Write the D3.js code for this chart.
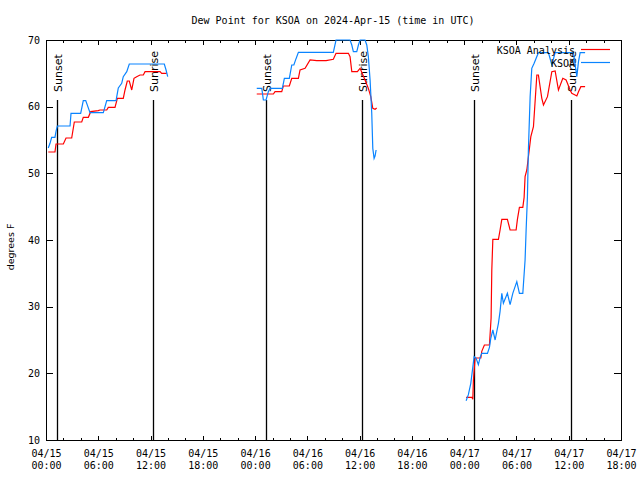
<!DOCTYPE html>
<html>
<head>
<meta charset="utf-8">
<script src="https://cdn.jsdelivr.net/npm/d3@7"></script>
<style>
  html, body { margin: 0; padding: 0; background: #fff; }
  svg { display: block; }
</style>
</head>
<body>
<svg id="chart" width="640" height="480"></svg>
<script>
// ---- DATA (hours since 2024-04-15 00:00 UTC; null = gap) ----
const obsHours = [0.26,0.46,0.65,1.03,1.15,1.3,2.76,2.87,3.98,4.28,4.56,5.05,6.58,6.97,8.04,8.3,8.69,8.87,9.27,9.56,13.58,13.78,13.97,
  null,
  24.19,24.77,24.95,25.26,25.52,25.72,27.13,27.36,27.93,28.21,28.45,28.7,28.97,32.98,33.29,34.9,35.1,35.28,35.67,35.86,36.05,36.62,36.82,37.0,37.2,37.39,37.51,37.66,37.77,37.89,
  null,
  48.22,48.48,48.76,49.14,49.37,49.63,49.83,50.02,50.67,50.9,51.06,51.29,51.55,51.93,52.12,52.32,52.5,52.96,53.27,53.58,54.04,54.34,54.73,54.99,55.11,55.26,55.37,55.57,55.76,56.03,56.52,57.67,58.06,58.44,60.54,60.93,61.12,61.31,61.88];
const obsDew = [53.8,54.5,55.4,55.4,56.3,57.1,57.1,59.0,59.0,60.9,60.9,59.1,59.1,60.9,60.9,62.8,63.5,64.5,65.25,66.4,66.4,65.5,64.5,
  null,
  62.75,62.75,61.0,61.0,62.25,62.75,62.75,64.25,64.25,66.25,66.25,67.2,68.15,68.15,70,70,69.25,68.25,68.25,69.25,70,70,69.25,67.5,64,59.0,53.75,52.25,52.6,53.5,
  null,
  15.9,16.8,18.5,22.5,22.25,21.3,22.4,23.0,23.0,23.9,25.3,26.5,25.0,27.5,29.3,32.0,30.5,32.0,30.3,32.0,33.75,32.0,32.0,37,41.5,46.5,53.5,61.5,65.75,66.5,68.1,68.1,66.25,68.1,68.1,64.5,66.75,68.1,68.1];

const anaHours = [0.26,1.03,1.15,1.99,2.3,2.95,3.25,4.1,4.28,4.86,5.13,6.0,6.2,6.97,7.15,7.92,8.19,8.87,9.07,9.33,9.56,9.84,10.1,10.41,10.79,11.17,11.37,13.09,13.28,13.86,
  null,
  24.19,26.1,26.29,27.06,27.24,27.93,28.21,28.97,29.16,29.74,30.31,31.08,32.15,32.98,33.29,34.71,34.9,35.1,35.74,36.05,36.62,37.0,37.28,37.51,37.77,37.96,
  null,
  48.22,48.88,48.99,49.06,49.25,49.91,50.02,50.32,50.9,51.09,51.17,51.29,51.93,52.12,52.32,52.96,53.27,53.96,54.11,54.34,54.73,54.88,54.99,55.19,55.65,55.95,56.34,56.52,56.91,57.1,57.56,58.06,58.44,58.82,59.32,59.7,60.16,60.35,60.73,60.93,61.12,61.39,61.88];
const anaDew = [53.2,53.2,54.4,54.4,55.3,55.3,57.7,57.7,58.4,58.4,59.25,59.4,59.5,59.5,59.9,59.9,61.25,61.25,62.5,63.85,63.85,62.5,64.25,64.5,64.75,64.75,65.25,65.25,65.0,65.0,
  null,
  61.9,61.9,62.25,62.25,63.1,63.1,64.25,64.25,65.5,65.75,67,66.9,66.9,67.1,68.0,68.0,67.5,65.25,65.25,65.75,64,62.75,61.5,59.75,59.6,59.8,
  null,
  16.4,16.4,16.1,19,22.3,22.3,23.3,24.25,24.25,28.3,35.5,40.1,40.1,41.5,43.1,43.1,41.5,41.5,43.1,44.9,44.9,46.4,49.5,50.5,55.5,57,64.75,64.75,61.25,60.25,61.5,65.25,65.35,62.5,64.25,64.0,62.5,62.0,61.75,61.6,62.25,63,63];

const sunsetHours = [1.23, 25.22, 49.17];
const sunriseHours = [12.32, 36.31, 60.28];
const yTicks = [10, 20, 30, 40, 50, 60, 70];
const seriesNames = ["KSOA Analysis", "KSOA"];
const titleText = "Dew Point for KSOA on 2024-Apr-15 (time in UTC)";
const yLabel = "degrees F";

// ---- SETUP ----
const t0 = Date.UTC(2024, 3, 15, 0, 0);
const hr = h => new Date(t0 + h * 3600e3);
const svg = d3.select("#chart");
const L = 46, R = 621, T = 40, B = 440;
const mono = "'DejaVu Sans Mono', monospace";
const sans = "'DejaVu Sans', sans-serif";

svg.append("rect").attr("width", 640).attr("height", 480).attr("fill", "#fff");

const x = d3.scaleUtc().domain([hr(0), hr(66)]).range([L, R]);
const y = d3.scaleLinear().domain([10, 70]).range([B, T]);

const majorX = d3.range(0, 67, 6).map(hr);
const minorX = d3.range(0, 67, 2).filter(h => h % 6 !== 0).map(hr);

function styleAxis(g) {
  g.select(".domain").remove();
  g.selectAll(".tick line").attr("stroke", "#000").attr("shape-rendering", "crispEdges");
}

// bottom major
const gxb = svg.append("g").attr("transform", `translate(0,${B})`)
  .call(d3.axisBottom(x).tickValues(majorX).tickSize(-4.5).tickFormat(""));
styleAxis(gxb);
const fmtD = d3.utcFormat("%m/%d"), fmtT = d3.utcFormat("%H:%M");
gxb.selectAll(".tick").append("text")
  .attr("fill", "#000").attr("text-anchor", "middle")
  .style("font-family", mono).style("font-size", "10px")
  .each(function(d) {
    const t = d3.select(this);
    t.append("tspan").attr("x", 0).attr("y", 17).text(fmtD(d));
    t.append("tspan").attr("x", 0).attr("y", 29).text(fmtT(d));
  });
// bottom minor
styleAxis(svg.append("g").attr("transform", `translate(0,${B})`)
  .call(d3.axisBottom(x).tickValues(minorX).tickSize(-2.5).tickFormat("")));
// top mirror
styleAxis(svg.append("g").attr("transform", `translate(0,${T})`)
  .call(d3.axisTop(x).tickValues(majorX).tickSize(-4.5).tickFormat("")));
styleAxis(svg.append("g").attr("transform", `translate(0,${T})`)
  .call(d3.axisTop(x).tickValues(minorX).tickSize(-2.5).tickFormat("")));

// y axes
const gyl = svg.append("g").attr("transform", `translate(${L},0)`)
  .call(d3.axisLeft(y).tickValues(yTicks).tickSize(-7).tickPadding(6));
styleAxis(gyl);
gyl.selectAll(".tick text").attr("fill", "#000")
  .style("font-family", mono).style("font-size", "10px");
styleAxis(svg.append("g").attr("transform", `translate(${R},0)`)
  .call(d3.axisRight(y).tickValues(yTicks).tickSize(-7).tickFormat("")));

// border
svg.append("rect").attr("x", L).attr("y", T).attr("width", R - L).attr("height", B - T)
  .attr("fill", "none").attr("stroke", "#000").attr("shape-rendering", "crispEdges");

// sunset / sunrise markers
const markers = sunsetHours.map(h => ({h, label: "Sunset"}))
  .concat(sunriseHours.map(h => ({h, label: "Sunrise"})));
const mg = svg.append("g");
mg.selectAll("line").data(markers).join("line")
  .attr("x1", d => Math.round(x(hr(d.h))) + 0.5).attr("x2", d => Math.round(x(hr(d.h))) + 0.5)
  .attr("y1", y(61)).attr("y2", y(10))
  .attr("stroke", "#000").attr("stroke-width", 1.3);
mg.selectAll("text").data(markers).join("text")
  .attr("transform", d => `translate(${x(hr(d.h)) + 5},${y(62.2)}) rotate(-90)`)
  .attr("text-anchor", "start")
  .style("font-family", sans).style("font-size", "11px").attr("fill", "#000")
  .text(d => d.label);

// lines
function series(hours, vals) {
  return hours.map((h, i) => ({h, v: vals[i]}));
}
const line = d3.line()
  .defined(d => d.h !== null && d.v !== null)
  .x(d => x(hr(d.h))).y(d => y(d.v));

const colors = ["#ff0000", "#0a84ff"];
const clip = svg.append("clipPath").attr("id", "clip")
  .append("rect").attr("x", L).attr("y", T - 1).attr("width", R - L).attr("height", B - T + 2);
const lg = svg.append("g").attr("clip-path", "url(#clip)");
lg.append("path").datum(series(anaHours, anaDew)).attr("d", line)
  .attr("fill", "none").attr("stroke", colors[0]).attr("stroke-width", 1.2);
lg.append("path").datum(series(obsHours, obsDew)).attr("d", line)
  .attr("fill", "none").attr("stroke", colors[1]).attr("stroke-width", 1.2);

// legend
const leg = svg.append("g");
seriesNames.forEach((name, i) => {
  const yy = 50 + i * 13;
  leg.append("text").attr("x", 575).attr("y", yy + 4).attr("text-anchor", "end")
    .style("font-family", mono).style("font-size", "10px").attr("fill", "#000").text(name);
  leg.append("line").attr("x1", 581).attr("x2", 610).attr("y1", yy - 0.5).attr("y2", yy - 0.5)
    .attr("stroke", colors[i]).attr("stroke-width", 1.2);
});

// title & y label
svg.append("text").attr("x", 333).attr("y", 24).attr("text-anchor", "middle")
  .style("font-family", mono).style("font-size", "10px").attr("fill", "#000").text(titleText);
svg.append("text").attr("transform", `translate(14,247) rotate(-90)`).attr("text-anchor", "middle")
  .style("font-family", sans).style("font-size", "9.5px").attr("fill", "#000").text(yLabel);
</script>
</body>
</html>
